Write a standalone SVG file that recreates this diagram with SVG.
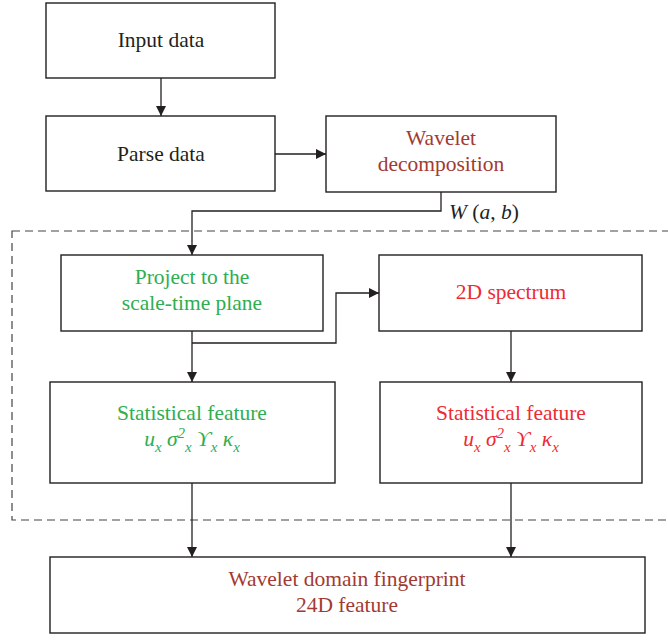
<svg xmlns="http://www.w3.org/2000/svg" width="668" height="641" viewBox="0 0 668 641">
<defs>
<marker id="ah" viewBox="0 0 10 10" refX="10" refY="5" markerWidth="10" markerHeight="10" markerUnits="userSpaceOnUse" orient="auto">
<path d="M0,0 L10,5 L0,10 Z" fill="#231f20"/>
</marker>
</defs>
<style>
.box{fill:#fff;stroke:#231f20;stroke-width:1.4}
text{font-family:'Liberation Serif','Times New Roman',serif;font-size:21.5px;text-anchor:middle}
.blk{fill:#231f20}
.brn{fill:#a23a32}
.grn{fill:#2eae4f}
.red{fill:#ee2a33}
.ln{fill:none;stroke:#231f20;stroke-width:1.3}
.dash{fill:none;stroke:#444;stroke-width:1.2;stroke-dasharray:8 5}
.it{font-style:italic}
.sub{font-size:15px}
</style>
<rect class="dash" x="12" y="231" width="670" height="289"/>
<g id="connectors">
<line class="ln" x1="161" y1="78" x2="161" y2="116" marker-end="url(#ah)"/>
<line class="ln" x1="275" y1="154" x2="326" y2="154" marker-end="url(#ah)"/>
<polyline class="ln" points="441,192 441,211 192,211 192,255" marker-end="url(#ah)"/>
<line class="ln" x1="192" y1="331" x2="192" y2="382" marker-end="url(#ah)"/>
<polyline class="ln" points="192,343 336,343 336,293 379,293" marker-end="url(#ah)"/>
<line class="ln" x1="511" y1="331" x2="511" y2="382" marker-end="url(#ah)"/>
<line class="ln" x1="192" y1="483" x2="192" y2="557" marker-end="url(#ah)"/>
<line class="ln" x1="511" y1="483" x2="511" y2="557" marker-end="url(#ah)"/>
<text class="blk it" x="449" y="219" style="text-anchor:start">W <tspan font-style="normal">(</tspan>a<tspan font-style="normal">, </tspan>b<tspan font-style="normal">)</tspan></text>
</g>
<g id="input">
<rect class="box" x="46" y="3" width="229" height="75"/>
<text class="blk" x="161" y="47">Input data</text>
</g>
<g id="parse">
<rect class="box" x="46" y="116" width="229" height="75"/>
<text class="blk" x="161" y="161">Parse data</text>
</g>
<g id="wavelet">
<rect class="box" x="326" y="116" width="230" height="76"/>
<text class="brn" x="441" y="145">Wavelet</text>
<text class="brn" x="441" y="171">decomposition</text>
</g>
<g id="project">
<rect class="box" x="61" y="255" width="262" height="76"/>
<text class="grn" x="192" y="284">Project to the</text>
<text class="grn" x="192" y="310">scale-time plane</text>
</g>
<g id="spectrum">
<rect class="box" x="379" y="255" width="263" height="76"/>
<text class="red" x="511" y="299">2D spectrum</text>
</g>
<g id="statL">
<rect class="box" x="50" y="382" width="285" height="101"/>
<text class="grn" x="192" y="420">Statistical feature</text>
<text class="grn it" x="192" y="446">u<tspan class="sub" dy="6">x</tspan><tspan dy="-6"> σ</tspan><tspan class="sub" dy="-8">2</tspan><tspan class="sub" dy="14">x</tspan><tspan dy="-6"> ϒ</tspan><tspan class="sub" dy="6">x</tspan><tspan dy="-6"> κ</tspan><tspan class="sub" dy="6">x</tspan></text>
</g>
<g id="statR">
<rect class="box" x="380" y="382" width="262" height="101"/>
<text class="red" x="511" y="420">Statistical feature</text>
<text class="red it" x="511" y="446">u<tspan class="sub" dy="6">x</tspan><tspan dy="-6"> σ</tspan><tspan class="sub" dy="-8">2</tspan><tspan class="sub" dy="14">x</tspan><tspan dy="-6"> ϒ</tspan><tspan class="sub" dy="6">x</tspan><tspan dy="-6"> κ</tspan><tspan class="sub" dy="6">x</tspan></text>
</g>
<g id="fingerprint">
<rect class="box" x="50" y="557" width="595" height="76"/>
<text class="brn" x="347" y="586">Wavelet domain fingerprint</text>
<text class="brn" x="347" y="612">24D feature</text>
</g>
</svg>
